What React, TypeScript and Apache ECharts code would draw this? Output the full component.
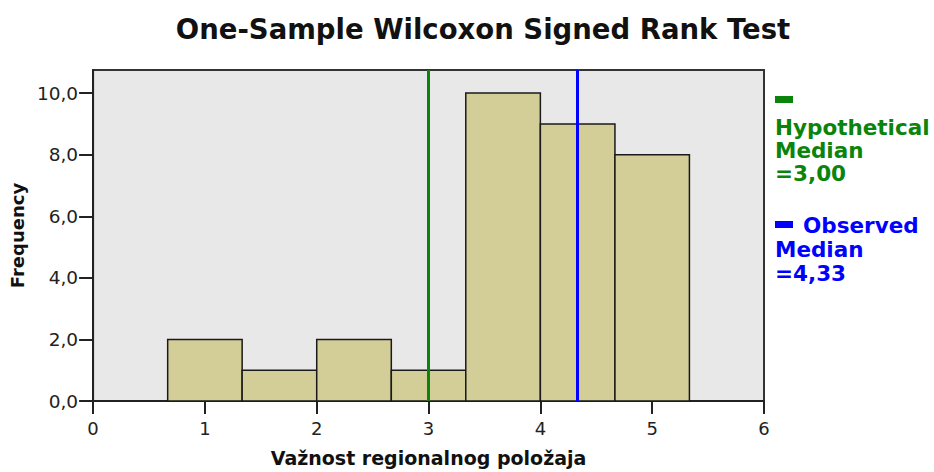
import React, { useEffect, useRef } from "react";
import * as echarts from "echarts";

const chartTitle = "One-Sample Wilcoxon Signed Rank Test";
const xAxisTitle = "Važnost regionalnog položaja";
const yAxisTitle = "Frequency";

// histogram bins (bin start, bin end) and frequencies
const binStart = [0.667, 1.333, 2.0, 2.667, 3.333, 4.0, 4.667];
const binEnd = [1.333, 2.0, 2.667, 3.333, 4.0, 4.667, 5.333];
const frequency = [2, 1, 2, 1, 10, 9, 8];

const hypotheticalMedian = 3.0;
const observedMedian = 4.33;

const yTicks = [0, 2, 4, 6, 8, 10];
const xTicks = [0, 1, 2, 3, 4, 5, 6];

const FONT = "DejaVu Sans";
const GREEN = "#0a840a";
const BLUE = "#0000ff";

const fmt = (v: number, d: number) => v.toFixed(d).replace(".", ",");

export default function App() {
  const ref = useRef<HTMLDivElement>(null);
  useEffect(() => {
    if (!ref.current) return;
    const chart = echarts.init(ref.current, null, { renderer: "svg" });
    const data = binStart.map((s, i) => [s, binEnd[i], frequency[i]]);
    const legendX = 775;
    const textLine = (text: string, y: number, color: string, x = legendX) => ({
      type: "text",
      x,
      y,
      style: {
        text,
        fill: color,
        font: `bold 21.5px "${FONT}"`,
        textVerticalAlign: "middle",
        textAlign: "left",
      },
    });
    chart.setOption({
      animation: false,
      backgroundColor: "#ffffff",
      title: {
        text: chartTitle,
        left: 478,
        top: 10,
        textAlign: "center",
        textStyle: { fontFamily: FONT, fontSize: 27.5, fontWeight: "bold", color: "#111" },
      },
      grid: {
        left: 93,
        right: 170,
        top: 70,
        bottom: 67,
        show: true,
        backgroundColor: "#e8e8e8",
        borderColor: "#333",
        borderWidth: 2,
      },
      xAxis: {
        type: "value",
        min: 0,
        max: 6,
        interval: 1,
        name: xAxisTitle,
        nameLocation: "middle",
        nameGap: 47,
        nameTextStyle: { fontFamily: FONT, fontSize: 19, fontWeight: "bold", color: "#111" },
        axisLine: { show: true, lineStyle: { color: "#222", width: 2 } },
        axisTick: { show: true, length: 13, lineStyle: { color: "#222", width: 2 }, customValues: xTicks },
        axisLabel: {
          fontFamily: FONT,
          fontSize: 18,
          color: "#222",
          margin: 18,
          customValues: xTicks,
        },
        splitLine: { show: false },
      },
      yAxis: {
        type: "value",
        min: 0,
        max: 10.75,
        interval: 2,
        name: yAxisTitle,
        nameLocation: "middle",
        nameGap: 62,
        nameRotate: 90,
        nameTextStyle: { fontFamily: FONT, fontSize: 18, fontWeight: "bold", color: "#111" },
        axisLine: { show: true, lineStyle: { color: "#222", width: 2 } },
        axisTick: { show: true, length: 14, lineStyle: { color: "#222", width: 2 }, customValues: yTicks },
        axisLabel: {
          fontFamily: FONT,
          fontSize: 18.5,
          color: "#222",
          margin: 15,
          customValues: yTicks,
          formatter: (v: number) => fmt(v, 1),
        },
        splitLine: { show: false },
      },
      series: [
        {
          type: "custom",
          data,
          encode: { x: [0, 1], y: 2 },
          renderItem: (params: any, api: any) => {
            const p0 = api.coord([api.value(0), api.value(2)]);
            const p1 = api.coord([api.value(1), 0]);
            return {
              type: "rect",
              shape: { x: p0[0], y: p0[1], width: p1[0] - p0[0], height: p1[1] - p0[1] },
              style: { fill: "#d3ce97", stroke: "#1a1a1a", lineWidth: 1.5 },
            };
          },
          markLine: {
            silent: true,
            symbol: ["none", "none"],
            label: { show: false },
            data: [
              { xAxis: hypotheticalMedian, lineStyle: { color: GREEN, width: 3, type: "solid" } },
              { xAxis: observedMedian, lineStyle: { color: BLUE, width: 3, type: "solid" } },
            ],
          },
        },
      ],
      graphic: [
        { type: "rect", shape: { x: legendX, y: 96, width: 18, height: 7 }, style: { fill: GREEN } },
        textLine("Hypothetical", 127, GREEN),
        textLine("Median", 150, GREEN),
        textLine("=" + fmt(hypotheticalMedian, 2), 173, GREEN),
        { type: "rect", shape: { x: legendX, y: 221, width: 18, height: 7 }, style: { fill: BLUE } },
        textLine("Observed", 225, BLUE, 803),
        textLine("Median", 249, BLUE),
        textLine("=" + fmt(observedMedian, 2), 273, BLUE),
      ],
    });
    return () => chart.dispose();
  }, []);
  return (
    <div
      ref={ref}
      style={{ position: "fixed", left: 0, top: 0, width: 934, height: 472 }}
    />
  );
}
